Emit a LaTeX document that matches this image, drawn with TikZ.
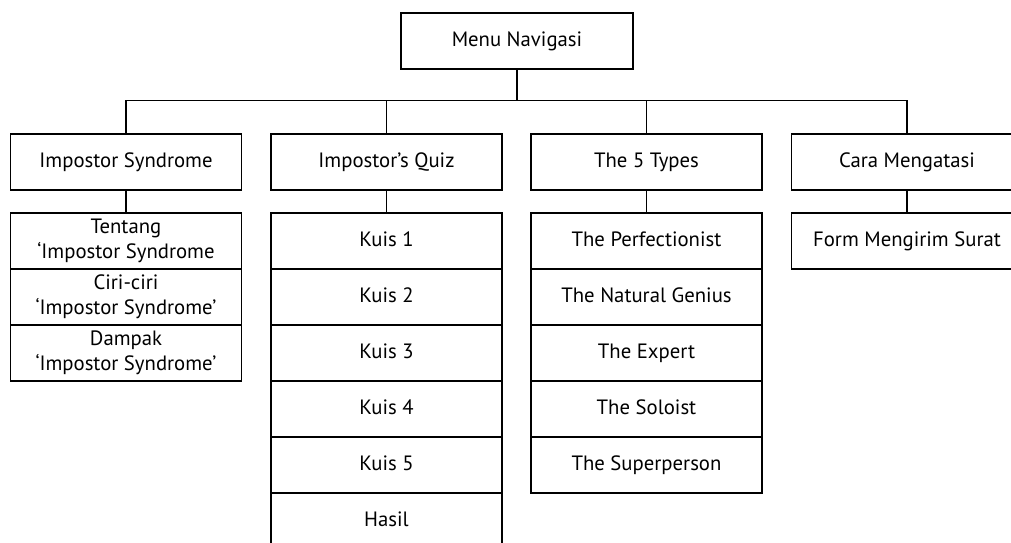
\documentclass[tikz,border=0pt]{standalone}
\usepackage{fontspec}
\setmainfont{PT Sans}
\usepackage{tikz}
\usetikzlibrary{positioning, calc}

\begin{document}
\begin{tikzpicture}[
    menu/.style={draw, line width=0.7pt, minimum width=4.64cm, minimum height=1.12cm, inner sep=1pt, font=\fontsize{11.8}{14}\selectfont, align=center},
    item/.style={menu, minimum width=4.62cm, text height=1.55ex, text depth=0.4ex},
    pair/.style={menu, minimum width=4.62cm},
    link/.style={line width=0.7pt}
]
    \useasboundingbox (0,0) rectangle (20.22,-10.86);
    \clip (0,0) rectangle (20.22,-10.86);

    % Top node
    \node[menu, text height=1.55ex, text depth=0.4ex] (nav) at (10.34,-0.82) {Menu Navigasi};

    % Main menu
    \node[item] (imp) at (2.52,-3.24) {Impostor Syndrome};
    \node[item] (quiz) at (7.73,-3.24) {Impostor’s Quiz};
    \node[item] (types) at (12.93,-3.24) {The 5 Types};
    \node[item] (cara) at (18.14,-3.24) {Cara Mengatasi};

    % Sub menu: Impostor Syndrome
    \node[pair] (imp1) at (2.52,-4.82) {Tentang\\‘Impostor Syndrome};
    \node[pair] (imp2) at (2.52,-5.94) {Ciri-ciri\\‘Impostor Syndrome’};
    \node[pair] (imp3) at (2.52,-7.06) {Dampak\\‘Impostor Syndrome’};

    % Sub menu: Impostor's Quiz
    \node[item] (quiz1) at (7.73,-4.82) {Kuis 1};
    \node[item] (quiz2) at (7.73,-5.94) {Kuis 2};
    \node[item] (quiz3) at (7.73,-7.06) {Kuis 3};
    \node[item] (quiz4) at (7.73,-8.18) {Kuis 4};
    \node[item] (quiz5) at (7.73,-9.30) {Kuis 5};
    \node[item] (hasil) at (7.73,-10.42) {Hasil};

    % Sub menu: The 5 Types
    \node[item] (type1) at (12.93,-4.82) {The Perfectionist};
    \node[item] (type2) at (12.93,-5.94) {The Natural Genius};
    \node[item] (type3) at (12.93,-7.06) {The Expert};
    \node[item] (type4) at (12.93,-8.18) {The Soloist};
    \node[item] (type5) at (12.93,-9.30) {The Superperson};

    % Sub menu: Cara Mengatasi
    \node[item] (form) at (18.14,-4.82) {Form Mengirim Surat};

    % Connectors
    \draw[link] (nav.south) -- ++(0,-0.62) -| (imp.north);
    \draw[link] (nav.south) -- ++(0,-0.62) -| (quiz.north);
    \draw[link] (nav.south) -- ++(0,-0.62) -| (types.north);
    \draw[link] (nav.south) -- ++(0,-0.62) -| (cara.north);
    \draw[link] (imp.south) -- (imp1.north);
    \draw[link] (quiz.south) -- (quiz1.north);
    \draw[link] (types.south) -- (type1.north);
    \draw[link] (cara.south) -- (form.north);
\end{tikzpicture}
\end{document}
